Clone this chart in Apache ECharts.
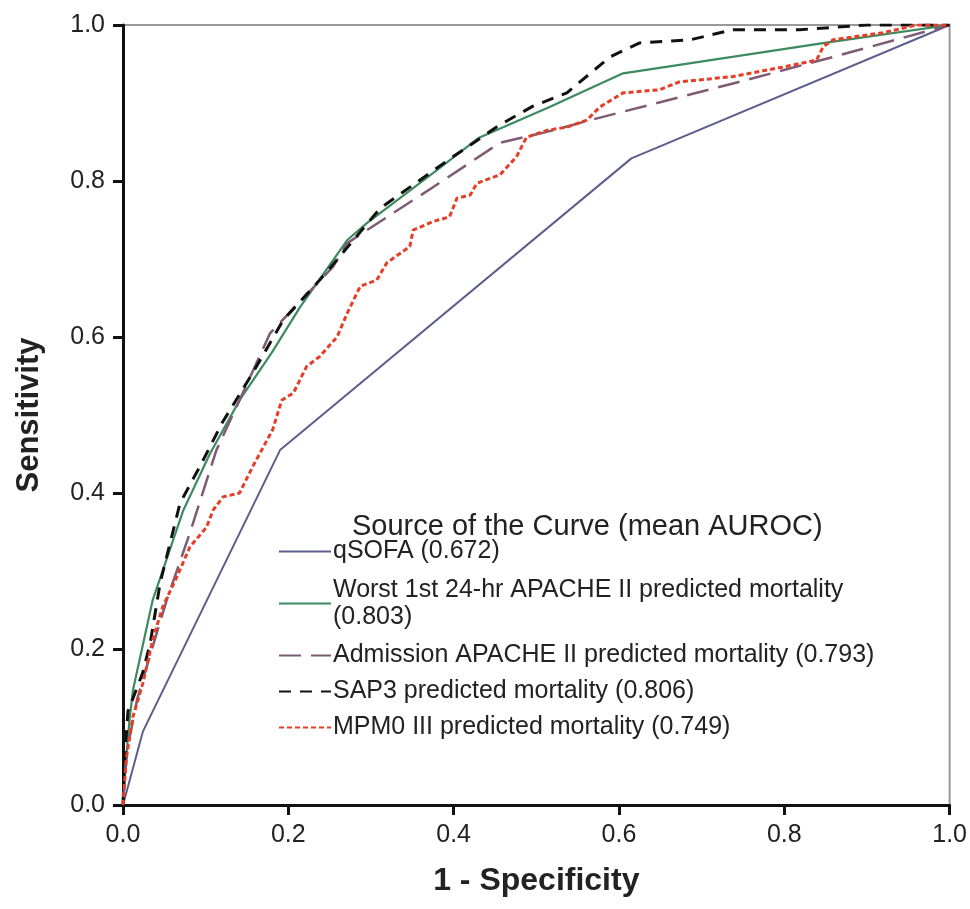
<!DOCTYPE html>
<html>
<head>
<meta charset="utf-8">
<script src="https://cdn.jsdelivr.net/npm/echarts@6/dist/echarts.min.js"></script>
<style>html,body{margin:0;padding:0;background:#fff}#c{width:970px;height:909px}</style>
</head>
<body>
<div id="c"></div>
<script>
var seriesNames = [
  'qSOFA (0.672)',
  'Worst 1st 24-hr APACHE II predicted mortality\n(0.803)',
  'Admission APACHE II predicted mortality (0.793)',
  'SAP3 predicted mortality (0.806)',
  'MPM0 III predicted mortality (0.749)'
];
var legendTitle = 'Source of the Curve (mean AUROC)';
var xTicks = [0, 0.2, 0.4, 0.6, 0.8, 1.0];

var qsofaX = [0, 0.024, 0.19, 0.615, 1];
var qsofaY = [0, 0.094, 0.455, 0.829, 1];

var worstX = [0, 0.003, 0.008, 0.012, 0.036, 0.073, 0.105, 0.141, 0.18, 0.214, 0.271, 0.295, 0.375, 0.43, 0.516, 0.605, 0.849, 1];
var worstY = [0, 0.05, 0.11, 0.147, 0.263, 0.378, 0.45, 0.519, 0.58, 0.638, 0.724, 0.746, 0.81, 0.855, 0.895, 0.938, 0.977, 1];

var admX = [0, 0.005, 0.017, 0.035, 0.053, 0.081, 0.113, 0.141, 0.178, 0.254, 0.271, 0.295, 0.375, 0.456, 0.513, 0.565, 0.738, 0.859, 1];
var admY = [0, 0.07, 0.135, 0.2, 0.263, 0.349, 0.455, 0.519, 0.605, 0.69, 0.72, 0.737, 0.792, 0.849, 0.863, 0.878, 0.925, 0.959, 1];

var sapX = [0, 0.002, 0.006, 0.024, 0.033, 0.045, 0.069, 0.093, 0.12, 0.157, 0.194, 0.238, 0.262, 0.311, 0.399, 0.456, 0.496, 0.537, 0.589, 0.625, 0.686, 0.738, 0.819, 0.9, 1];
var sapY = [0, 0.06, 0.12, 0.17, 0.208, 0.285, 0.387, 0.434, 0.49, 0.554, 0.622, 0.673, 0.703, 0.765, 0.831, 0.872, 0.896, 0.913, 0.959, 0.977, 0.981, 0.994, 0.994, 1, 1];

var mpmX = [0, 0.004, 0.012, 0.024, 0.036, 0.048, 0.065, 0.081, 0.101, 0.109, 0.121, 0.141, 0.157, 0.181, 0.192, 0.206, 0.222, 0.238, 0.259, 0.271, 0.287, 0.307, 0.319, 0.347, 0.351, 0.375, 0.395, 0.404, 0.42, 0.428, 0.456, 0.476, 0.488, 0.513, 0.537, 0.561, 0.577, 0.605, 0.649, 0.673, 0.738, 0.798, 0.839, 0.847, 0.859, 0.919, 0.96, 1];
var mpmY = [0, 0.06, 0.113, 0.156, 0.212, 0.254, 0.292, 0.331, 0.356, 0.378, 0.395, 0.4, 0.434, 0.481, 0.519, 0.528, 0.562, 0.575, 0.6, 0.63, 0.665, 0.673, 0.695, 0.716, 0.737, 0.748, 0.754, 0.778, 0.782, 0.797, 0.808, 0.831, 0.856, 0.865, 0.869, 0.878, 0.895, 0.913, 0.917, 0.927, 0.934, 0.946, 0.955, 0.972, 0.981, 0.99, 1, 1];

function pairs(xs, ys) { return xs.map(function (x, i) { return [x, ys[i]]; }); }

var styles = [
  { color: '#5c5e8e', width: 2, type: 'solid' },
  { color: '#3d8a5f', width: 2.2, type: 'solid' },
  { color: '#7d5b74', width: 2.5, type: [22, 10] },
  { color: '#111111', width: 3, type: [12, 9] },
  { color: '#e63d26', width: 3, type: [5, 3] }
];
var datas = [pairs(qsofaX, qsofaY), pairs(worstX, worstY), pairs(admX, admY), pairs(sapX, sapY), pairs(mpmX, mpmY)];

var font = '"Liberation Sans", Arial, sans-serif';
var legendData = seriesNames.map(function (n, i) {
  return i === 1 ? { name: n, textStyle: { padding: [5, 0, 0, -3] } } : { name: n };
});
var chart = echarts.init(document.getElementById('c'), null, { renderer: 'canvas' });
chart.setOption({
  animation: false,
  backgroundColor: '#fff',
  title: {
    text: legendTitle,
    left: 352, top: 512, padding: 0,
    textStyle: { fontFamily: font, fontSize: 29, fontWeight: 'normal', color: '#222' }
  },
  legend: {
    orient: 'vertical',
    left: 278, top: 538, padding: 0,
    itemWidth: 52, itemHeight: 14, itemGap: 9,
    data: legendData,
    itemStyle: { color: 'rgba(0,0,0,0)', borderColor: 'rgba(0,0,0,0)', borderWidth: 0 },
    textStyle: { fontFamily: font, fontSize: 25, color: '#222', lineHeight: 27, padding: [0, 0, 0, -3] }
  },
  grid: { left: 123, right: 20, top: 25, bottom: 104, show: true, borderColor: '#999', borderWidth: 2 },
  xAxis: {
    type: 'value', min: 0, max: 1, interval: 0.2,
    name: '1 - Specificity', nameLocation: 'middle', nameGap: 60,
    nameTextStyle: { fontFamily: font, fontSize: 32, fontWeight: 'bold', color: '#222' },
    axisLine: { show: true, lineStyle: { color: '#111', width: 3 } },
    axisTick: { show: true, length: 10, lineStyle: { color: '#111', width: 3 } },
    axisLabel: { margin: 18, fontFamily: font, fontSize: 25, color: '#222', formatter: function (v) { return v.toFixed(1); } },
    splitLine: { show: false }
  },
  yAxis: {
    type: 'value', min: 0, max: 1, interval: 0.2,
    name: 'Sensitivity', nameLocation: 'middle', nameGap: 78,
    nameTextStyle: { fontFamily: font, fontSize: 31, fontWeight: 'bold', color: '#222' },
    axisLine: { show: true, lineStyle: { color: '#111', width: 3 } },
    axisTick: { show: true, length: 10, lineStyle: { color: '#111', width: 3 } },
    axisLabel: { margin: 18, fontFamily: font, fontSize: 25, color: '#222', formatter: function (v) { return v.toFixed(1); } },
    splitLine: { show: false }
  },
  series: seriesNames.map(function (n, i) {
    return {
      name: n, type: 'line', data: datas[i], symbol: 'none', showSymbol: false,
      lineStyle: styles[i], itemStyle: { color: styles[i].color }, z: 2 + i
    };
  })
});
</script>
</body>
</html>
